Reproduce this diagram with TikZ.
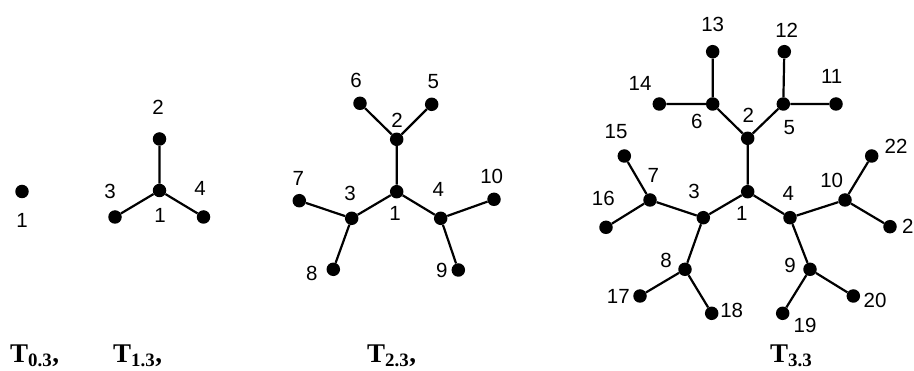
\documentclass[tikz,border=0pt]{standalone}
\usepackage{fontspec}
\setmainfont{Liberation Serif}
\newfontfamily\numfont{Liberation Sans}
\begin{document}
\begin{tikzpicture}[x=1pt,y=-1pt,
  dot/.style={circle,fill=black,inner sep=0pt,minimum size=13.5pt},
  lbl/.style={inner sep=0pt,font=\numfont\fontsize{20.5}{20.5}\selectfont},
  edge/.style={line width=2.2pt},
  ttl/.style={inner sep=0pt,anchor=base west,font=\fontsize{27}{27}\selectfont\bfseries}]
\useasboundingbox[fill=white] (0,0) rectangle (914,371);
% T0,3
\node[dot] (z1) at (22,191.5) {};
\node[lbl] (z1l) at (22,220) {1};
% T1,3
\node[dot] (a1) at (159.5,190.5) {};
\node[dot] (a2) at (159.5,139) {};
\node[dot] (a3) at (115,217) {};
\node[dot] (a4) at (203.5,217) {};
\draw[edge] (a1) -- (a2) (a1) -- (a3) (a1) -- (a4);
\node[lbl] (a1l) at (160,215) {1};
\node[lbl] (a2l) at (158,107.5) {2};
\node[lbl] (a3l) at (110,191) {3};
\node[lbl] (a4l) at (200,188.5) {4};
% T2,3
\node[dot] (b1) at (396.7,191.7) {};
\node[dot] (b2) at (396.7,139.3) {};
\node[dot] (b6) at (360,103.3) {};
\node[dot] (b5) at (431.7,104.3) {};
\node[dot] (b3) at (351.7,218.3) {};
\node[dot] (b4) at (440.7,218.3) {};
\node[dot] (b7) at (299.3,200.7) {};
\node[dot] (b10) at (494,199.3) {};
\node[dot] (b8) at (333.3,269.3) {};
\node[dot] (b9) at (458.3,270) {};
\draw[edge] (b1) -- (b2) (b2) -- (b6) (b2) -- (b5)
  (b1) -- (b3) (b3) -- (b7) (b3) -- (b8)
  (b1) -- (b4) (b4) -- (b10) (b4) -- (b9);
\node[lbl] (b1l) at (395,213) {1};
\node[lbl] (b2l) at (397,120) {2};
\node[lbl] (b3l) at (350,193) {3};
\node[lbl] (b4l) at (438.3,189.3) {4};
\node[lbl] (b5l) at (433.3,81.7) {5};
\node[lbl] (b6l) at (356,80.7) {6};
\node[lbl] (b7l) at (298.3,178.3) {7};
\node[lbl] (b8l) at (311.7,273.3) {8};
\node[lbl] (b9l) at (441.7,270) {9};
\node[lbl] (b10l) at (491.7,176.7) {10};
% T3,3
\node[dot] (c1) at (747.7,191.7) {};
\node[dot] (c2) at (747.7,138.3) {};
\node[dot] (c6) at (712.7,104) {};
\node[dot] (c5) at (783.3,104) {};
\node[dot] (c13) at (712.7,51.7) {};
\node[dot] (c12) at (784.3,51.7) {};
\node[dot] (c14) at (659.3,104) {};
\node[dot] (c11) at (836,104) {};
\node[dot] (c15) at (624.3,156) {};
\node[dot] (c22) at (871.7,156) {};
\node[dot] (c7) at (650,200) {};
\node[dot] (c16) at (606,227.3) {};
\node[dot] (c3) at (703.3,217.7) {};
\node[dot] (c4) at (790,217.7) {};
\node[dot] (c10) at (845,200) {};
\node[dot] (c21) at (890,226.7) {};
\node[dot] (c8) at (685,269.3) {};
\node[dot] (c9) at (810,269.3) {};
\node[dot] (c17) at (640,296) {};
\node[dot] (c18) at (711.7,313.3) {};
\node[dot] (c19) at (782.7,313.3) {};
\node[dot] (c20) at (853.3,296) {};
\draw[edge] (c1) -- (c2) (c2) -- (c6) (c2) -- (c5)
  (c6) -- (c13) (c6) -- (c14) (c5) -- (c12) (c5) -- (c11)
  (c1) -- (c3) (c3) -- (c7) (c3) -- (c8)
  (c7) -- (c15) (c7) -- (c16) (c8) -- (c17) (c8) -- (c18)
  (c1) -- (c4) (c4) -- (c10) (c4) -- (c9)
  (c10) -- (c22) (c10) -- (c21) (c9) -- (c19) (c9) -- (c20);
\node[lbl] (c1l) at (741.7,213.3) {1};
\node[lbl] (c2l) at (748.3,115) {2};
\node[lbl] (c3l) at (694,191) {3};
\node[lbl] (c4l) at (788.3,193.3) {4};
\node[lbl] (c5l) at (789.3,127.3) {5};
\node[lbl] (c6l) at (696.7,121.7) {6};
\node[lbl] (c7l) at (653.3,175) {7};
\node[lbl] (c8l) at (666,260.7) {8};
\node[lbl] (c9l) at (790,265) {9};
\node[lbl] (c10l) at (831.7,180) {10};
\node[lbl] (c11l) at (831.7,76.7) {11};
\node[lbl] (c12l) at (786.7,30) {12};
\node[lbl] (c13l) at (712.7,24) {13};
\node[lbl] (c14l) at (640,83.3) {14};
\node[lbl] (c15l) at (616,131.7) {15};
\node[lbl] (c16l) at (603.3,198.3) {16};
\node[lbl] (c17l) at (618.3,296.7) {17};
\node[lbl] (c18l) at (731.7,310.7) {18};
\node[lbl] (c19l) at (805,325) {19};
\node[lbl] (c20l) at (875,300) {20};
\node[lbl,anchor=west] (c21l) at (902,226.7) {21};
\node[lbl] (c22l) at (896,146.7) {22};
% titles
\node[ttl] (t0) at (10,363) {T\textsubscript{0.3},};
\node[ttl] (t1) at (113,363) {T\textsubscript{1.3},};
\node[ttl] (t2) at (367,363) {T\textsubscript{2.3},};
\node[ttl] (t3) at (770,363) {T\textsubscript{3.3}};
\end{tikzpicture}
\end{document}
